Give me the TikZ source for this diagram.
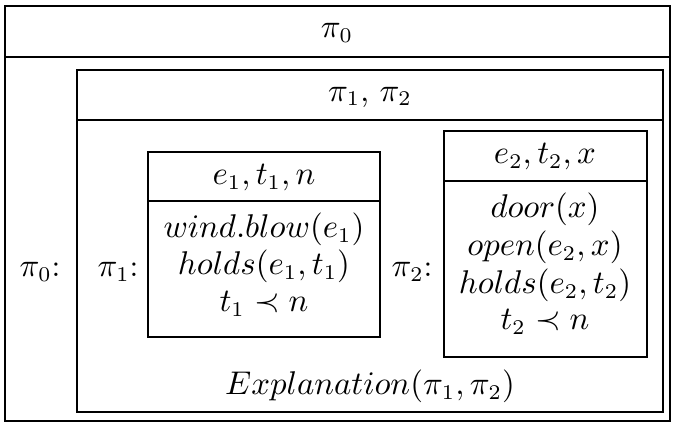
\documentclass[tikz,border=0pt]{standalone}
\begin{document}
\begin{tikzpicture}[x=0.3333pt, y=-0.3333pt,
  frame/.style={draw=black, line width=0.7pt},
  lbl/.style={inner sep=0pt, anchor=center, font=\fontsize{10.5pt}{12.6pt}\selectfont}]
\useasboundingbox (0,0) rectangle (674,424);
% outer box
\draw[frame] (5,6) rectangle (670,421);
\draw[frame] (5,57) -- (670,57);
% inner box
\draw[frame] (77,70) rectangle (663,412);
\draw[frame] (77,120) -- (663,120);
% box 1
\draw[frame] (148,152) rectangle (380,337);
\draw[frame] (148,201) -- (380,201);
% box 2
\draw[frame] (444,131) rectangle (647,357);
\draw[frame] (444,181) -- (647,181);
% texts
\node[lbl] (p0) at (337,33) {$\pi_0$};
\node[lbl] (p12) at (370,97) {$\pi_1$,\ $\pi_2$};
\node[lbl] (p0l) at (40,272) {$\pi_0$:};
\node[lbl] (p1l) at (118,272) {$\pi_1$:};
\node[lbl] (p2l) at (412,272) {$\pi_2$:};
\node[lbl] (h1) at (264,178) {$e_1,t_1,n$};
\node[lbl] (a1) at (264,229) {$wind.blow(e_1)$};
\node[lbl] (b1) at (264,266) {$holds(e_1,t_1)$};
\node[lbl] (c1) at (264,304) {$t_1\prec n$};
\node[lbl] (h2) at (545,157) {$e_2,t_2,x$};
\node[lbl] (a2) at (545,209) {$door(x)$};
\node[lbl] (b2) at (545,247) {$open(e_2,x)$};
\node[lbl] (c2) at (545,285) {$holds(e_2,t_2)$};
\node[lbl] (d2) at (545,322) {$t_2\prec n$};
\node[lbl] (ex) at (370,386) {$Explanation(\pi_1,\pi_2)$};
\end{tikzpicture}
\end{document}
